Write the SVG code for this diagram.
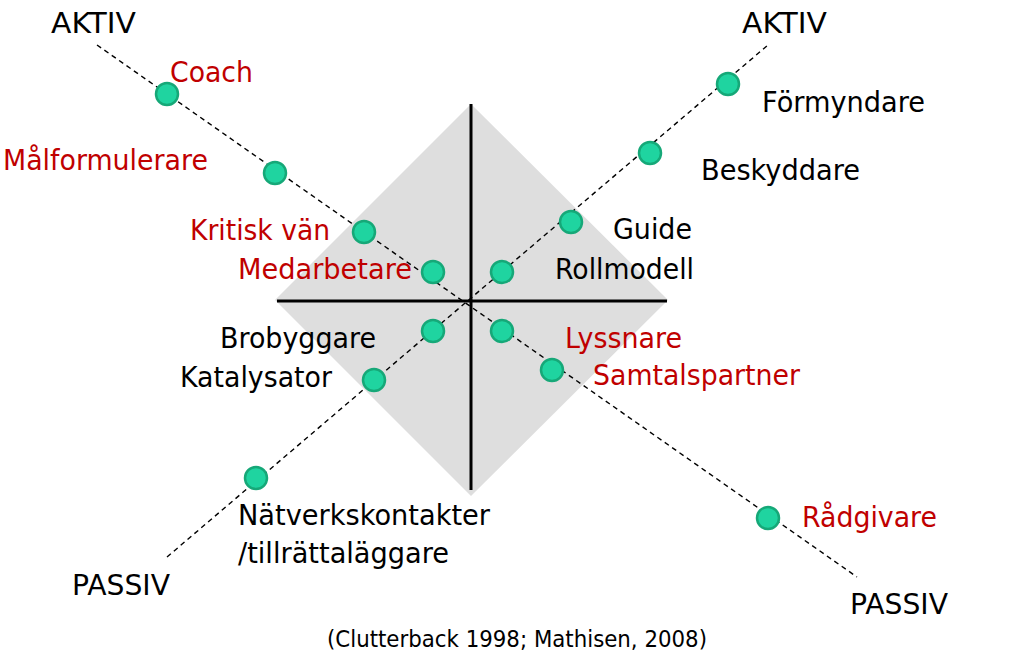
<svg xmlns="http://www.w3.org/2000/svg" width="1023" height="666" viewBox="0 0 1023 666">
<style>
text{font-family:"DejaVu Sans","Liberation Sans",sans-serif;font-size:29px;fill:#000}
.r{fill:#c00000}
.dot{fill:#1fd4a0;stroke:#16a878;stroke-width:2.5}
.dash{stroke:#000;stroke-width:1.4;stroke-dasharray:5 4;fill:none}
.axis{stroke:#000;stroke-width:3}
</style>
<rect width="1023" height="666" fill="#fff"/>
<g id="diamond">
<polygon points="471,104 668,300 471,496 275,300" fill="#dedede"/>
<line class="axis" x1="471" y1="104" x2="471" y2="490"/>
<line class="axis" x1="277" y1="301" x2="667" y2="301"/>
</g>
<g id="connectors">
<line class="dash" x1="97" y1="45" x2="857" y2="577"/>
<line class="dash" x1="167" y1="557" x2="768" y2="45"/>
</g>
<g id="dots">
<circle class="dot" cx="167" cy="94" r="11"/>
<circle class="dot" cx="275" cy="173" r="11"/>
<circle class="dot" cx="364" cy="232" r="11"/>
<circle class="dot" cx="433" cy="272" r="11"/>
<circle class="dot" cx="502" cy="331" r="11"/>
<circle class="dot" cx="552" cy="370" r="11"/>
<circle class="dot" cx="768" cy="518" r="11"/>
<circle class="dot" cx="728" cy="84" r="11"/>
<circle class="dot" cx="650" cy="153" r="11"/>
<circle class="dot" cx="571" cy="222" r="11"/>
<circle class="dot" cx="502" cy="272" r="11"/>
<circle class="dot" cx="433" cy="331" r="11"/>
<circle class="dot" cx="374" cy="380" r="11"/>
<circle class="dot" cx="256" cy="478" r="11"/>
</g>
<g id="labels">
<text id="aktiv-l" x="51" y="33" textLength="85" lengthAdjust="spacingAndGlyphs">AKTIV</text>
<text id="aktiv-r" x="742" y="33" textLength="85" lengthAdjust="spacingAndGlyphs">AKTIV</text>
<text id="passiv-l" x="72" y="595" textLength="98" lengthAdjust="spacingAndGlyphs">PASSIV</text>
<text id="passiv-r" x="850" y="614" textLength="98" lengthAdjust="spacingAndGlyphs">PASSIV</text>
<text class="r" x="170" y="82" textLength="83" lengthAdjust="spacingAndGlyphs">Coach</text>
<text class="r" x="3" y="170" textLength="205" lengthAdjust="spacingAndGlyphs">Målformulerare</text>
<text class="r" x="190" y="240" textLength="140" lengthAdjust="spacingAndGlyphs">Kritisk vän</text>
<text class="r" x="238" y="279" textLength="174" lengthAdjust="spacingAndGlyphs">Medarbetare</text>
<text x="220" y="348" textLength="156" lengthAdjust="spacingAndGlyphs">Brobyggare</text>
<text x="180" y="387" textLength="152" lengthAdjust="spacingAndGlyphs">Katalysator</text>
<text x="238" y="525" textLength="252" lengthAdjust="spacingAndGlyphs">Nätverkskontakter</text>
<text x="238" y="563" textLength="211" lengthAdjust="spacingAndGlyphs">/tillrättaläggare</text>
<text x="762" y="112" textLength="163" lengthAdjust="spacingAndGlyphs">Förmyndare</text>
<text x="701" y="180" textLength="159" lengthAdjust="spacingAndGlyphs">Beskyddare</text>
<text x="613" y="239" textLength="79" lengthAdjust="spacingAndGlyphs">Guide</text>
<text x="555" y="279" textLength="139" lengthAdjust="spacingAndGlyphs">Rollmodell</text>
<text class="r" x="565" y="348" textLength="117" lengthAdjust="spacingAndGlyphs">Lyssnare</text>
<text class="r" x="593" y="385" textLength="207" lengthAdjust="spacingAndGlyphs">Samtalspartner</text>
<text class="r" x="802" y="527" textLength="135" lengthAdjust="spacingAndGlyphs">Rådgivare</text>
<text x="327" y="647" style="font-size:23px" textLength="380" lengthAdjust="spacingAndGlyphs">(Clutterback 1998; Mathisen, 2008)</text>
</g>
</svg>
